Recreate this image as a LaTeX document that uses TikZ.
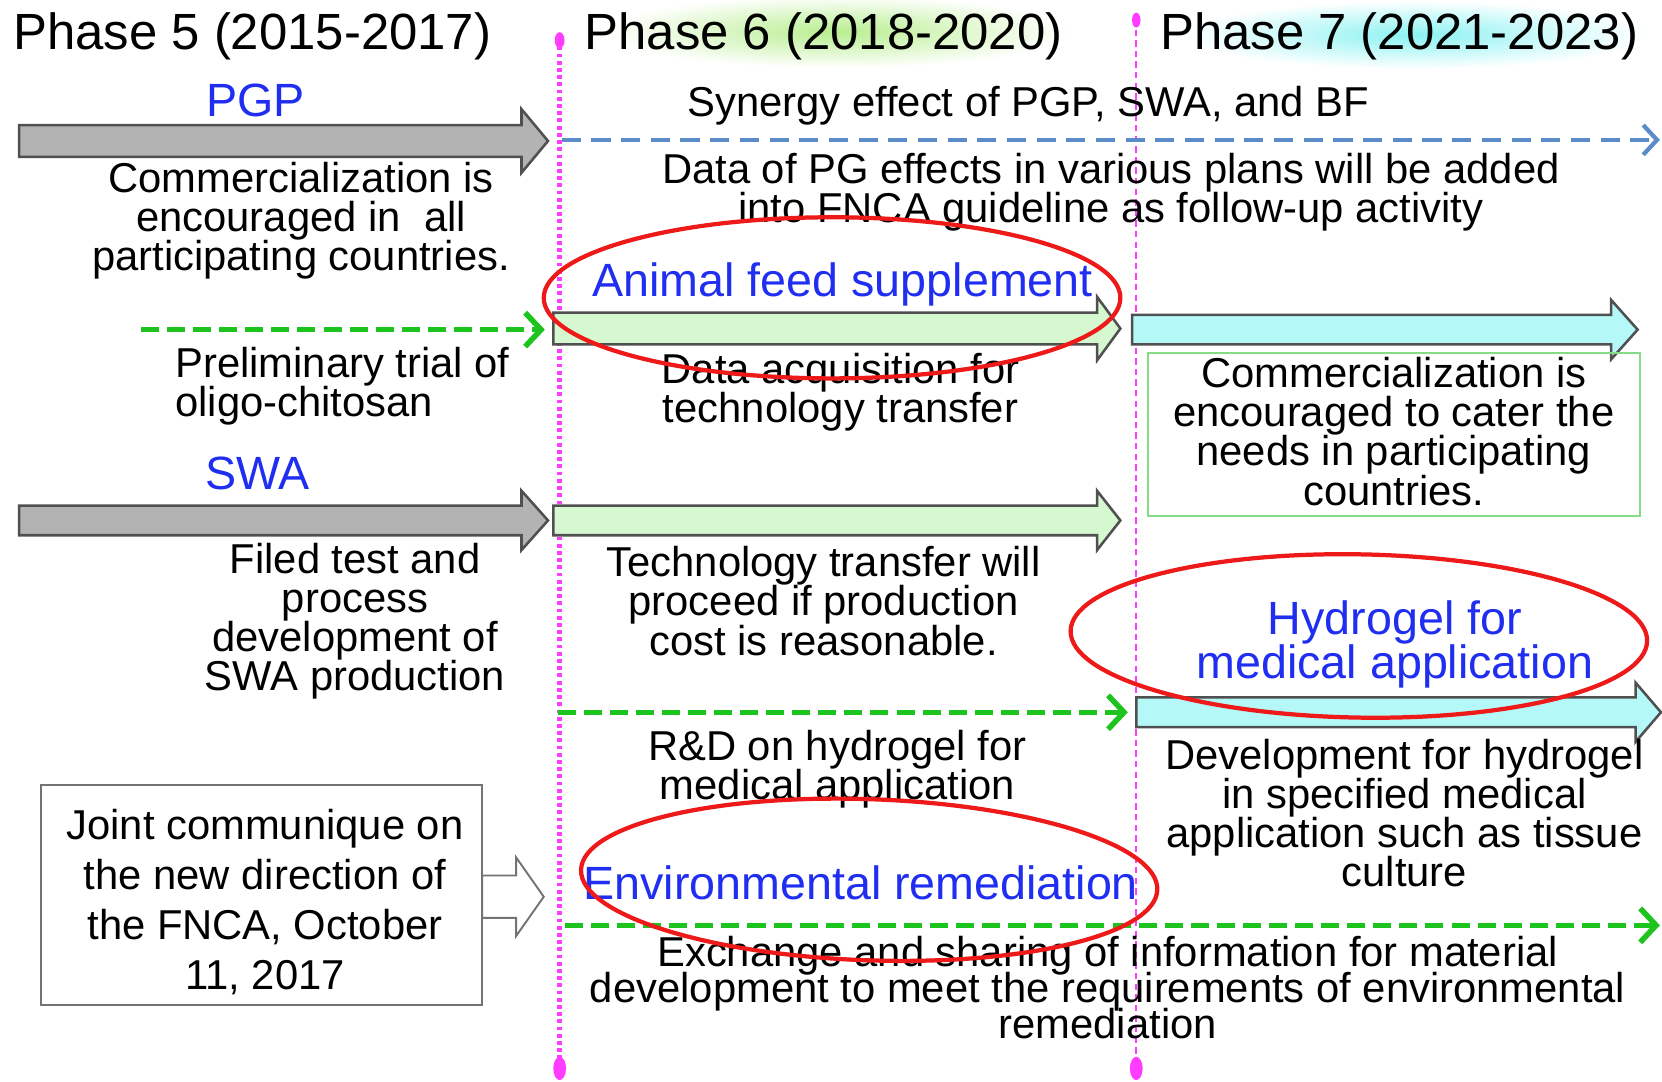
\documentclass[tikz,border=0pt]{standalone}
\usepackage{fontspec}
\setmainfont{Liberation Sans}
\usetikzlibrary{arrows.meta}
\definecolor{arrgray}{HTML}{B3B3B3}
\definecolor{arrline}{HTML}{505050}
\definecolor{lgreen}{HTML}{D5F8D0}
\definecolor{lcyan}{HTML}{B5F8F8}
\definecolor{myblue}{HTML}{1F2EF0}
\definecolor{dgreen}{HTML}{1DC41D}
\definecolor{steel}{HTML}{5B8CC8}
\definecolor{magent}{HTML}{FF3CFF}
\definecolor{myred}{HTML}{EE1A1A}
\definecolor{boxgreen}{HTML}{86DC86}
\definecolor{glowgreen}{HTML}{B8EE90}
\definecolor{glowcyan}{HTML}{8CF2F2}
\newcommand\myblockarrow[7]{%
  \draw[#1] (#2,{#5-#6}) -- (#3,{#5-#6}) -- (#3,{#5-#7}) -- (#4,#5) -- (#3,{#5+#7}) -- (#3,{#5+#6}) -- (#2,{#5+#6}) -- cycle;}
\newcommand\mytightfont{\fontsize{19.7}{17}\selectfont\lineskiplimit=-30pt\relax\lineskip=0pt\relax}
\begin{document}
\begin{tikzpicture}[x=0.5pt,y=-0.5pt,
  txt/.style={font=\fontsize{19.7}{18.5}\selectfont, align=center, inner sep=0pt},
  ttl/.style={font=\fontsize{24}{28}\selectfont, inner sep=0pt},
  blu/.style={txt, text=myblue, font=\fontsize{22}{21}\selectfont},
  grayarr/.style={fill=arrgray, draw=arrline, line width=1.2pt},
  greenarr/.style={fill=lgreen, draw=arrline, line width=1.2pt},
  cyanarr/.style={fill=lcyan, draw=arrline, line width=1.2pt},
  whitearr/.style={fill=white, draw=arrline!80, line width=0.9pt},
  gdash/.style={draw=dgreen, line width=2.6pt, dash pattern=on 8.5pt off 3.8pt, -{Straight Barb[length=7.5pt,width=16pt]}},
  bdash/.style={draw=steel, line width=2pt, dash pattern=on 9pt off 5pt, -{Straight Barb[length=6.5pt,width=14pt]}},
  redell/.style={draw=myred, line width=2pt},
  magdot/.style={draw=magent, line width=2.2pt, dash pattern=on 1.8pt off 1.6pt},
  magdash/.style={draw=magent, line width=0.9pt, dash pattern=on 3pt off 2pt},
]
\useasboundingbox (0,0) rectangle (1568,1020);
\fill[white] (0,0) rectangle (1568,1020);

% header glows
\shade[inner color=glowgreen, outer color=white] (790,30) ellipse [x radius=110pt, y radius=17pt];
\shade[inner color=glowcyan, outer color=white] (1335,33) ellipse [x radius=110pt, y radius=16pt];

% phase separators
\draw[magdot] (528,37) -- (528,1008);
\draw[magdash] (1072,18) -- (1072,1008);
\fill[magent] (528,38) ellipse [x radius=2.3pt, y radius=3.8pt];
\fill[magent] (528,1008) ellipse [x radius=3pt, y radius=5.5pt];
\fill[magent] (1072,19) ellipse [x radius=2pt, y radius=3.5pt];
\fill[magent] (1072,1008) ellipse [x radius=3pt, y radius=5.5pt];

% headers
\node[ttl] (ph5) at (238,34) {Phase 5 (2015-2017)};
\node[ttl] (ph6) at (777,34) {Phase 6 (2018-2020)};
\node[ttl] (ph7) at (1320,34) {Phase 7 (2021-2023)};

% block arrows
\myblockarrow{grayarr}{18}{492}{517}{133}{15}{30}
\myblockarrow{grayarr}{18}{492}{517}{491}{14}{28}
\myblockarrow{greenarr}{522}{1035}{1057}{310}{15}{30}
\myblockarrow{greenarr}{522}{1035}{1057}{491}{14}{28}
\myblockarrow{cyanarr}{1068}{1520}{1545}{311}{14}{28}
\myblockarrow{cyanarr}{1072}{1543}{1567}{672}{14}{28}

% dashed connectors
\coordinate (b1) at (530,132);
\coordinate (b2) at (1566,132);
\draw[bdash] (b1) -- (b2);
\coordinate (g1) at (133,311);
\coordinate (g2) at (514,311);
\draw[gdash] (g1) -- (g2);
\coordinate (g3) at (526,672);
\coordinate (g4) at (1064,672);
\draw[gdash] (g3) -- (g4);
\coordinate (g5) at (533,873);
\coordinate (g6) at (1566,873);
\draw[gdash] (g5) -- (g6);

% PGP row
\node[blu] (pgp) at (241,95) {PGP};
\node[txt] (syn) at (970,100) {Synergy effect of PGP, SWA, and BF};
\node[txt] (datapg) at (1048,181) {Data of PG effects in various plans will be added\\into FNCA guideline as follow-up activity};
\node[txt] (com5) at (284,208) {Commercialization is\\encouraged in\ \ all\\participating countries.};

% animal feed row
\node[blu] (afs) at (795,268) {Animal feed supplement};
\node[txt, align=left, anchor=west] (prelim) at (165,364) {Preliminary trial of\\oligo-chitosan};
\node[txt] (dacq) at (793,370) {Data acquisition for\\technology transfer};
\node[draw=boxgreen, line width=0.7pt, minimum width=232pt, minimum height=77pt, inner sep=0pt] (combox) at (1315,410) {};
\node[txt] (com7) at (1315,407) {Commercialization is\\encouraged to cater the\\needs in participating\\countries.};

% SWA row
\node[blu] (swa) at (243,447) {SWA};
\node[txt] (filed) at (335,586) {Filed test and\\process\\development of\\SWA production};
\node[txt] (tech) at (777,567) {Technology transfer will\\proceed if production\\cost is reasonable.};

% hydrogel row
\node[blu] (hydro) at (1316,608) {Hydrogel for\\medical application};
\node[txt] (rnd) at (790,726) {R\&D on hydrogel for\\medical application};
\node[txt] (devel) at (1325,767) {Development for hydrogel\\in specified medical\\application such as tissue\\culture};

% joint communique
\node[draw=arrline!80, line width=0.9pt, minimum width=208pt, minimum height=103.5pt, inner sep=0pt] (jbox) at (247,844.5) {};
\node[txt, font=\fontsize{19.7}{23.5}\selectfont] (joint) at (250,851) {Joint communique on\\the new direction of\\the FNCA, October\\11, 2017};
\myblockarrow{whitearr}{455}{487}{513}{846}{20}{37}

% environmental row
\node[blu] (env) at (812,833) {Environmental remediation};
\node[txt, font=\mytightfont] (exch) at (1045,932) {Exchange and sharing of information for material\\development to meet the requirements of environmental\\remediation};

% red highlight ellipses
\draw[redell] (785,281) ellipse [x radius=136pt, y radius=38pt];
\draw[redell, rotate around={-1:(1282,600)}] (1282,600) ellipse [x radius=136pt, y radius=38.5pt];
\draw[redell, rotate around={-2:(820,830)}] (820,830) ellipse [x radius=136pt, y radius=38pt];
\end{tikzpicture}
\end{document}
